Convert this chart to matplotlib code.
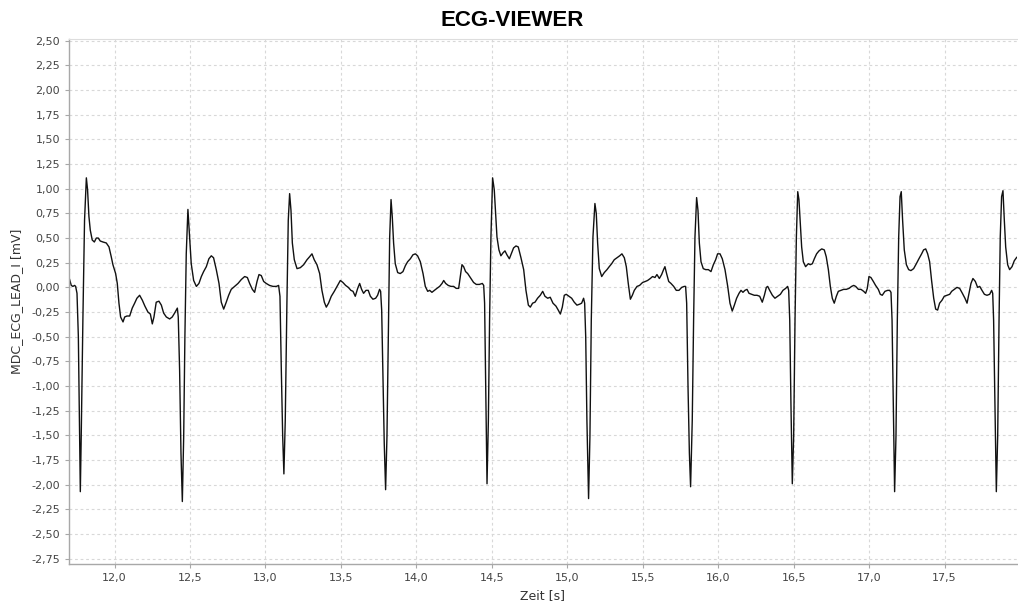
import matplotlib
matplotlib.use("Agg")
import matplotlib.pyplot as plt
from matplotlib.ticker import FuncFormatter, MultipleLocator

# ECG samples (time in s, voltage in mV)
time_s = [
    11.702, 11.713, 11.724, 11.735, 11.742, 11.751, 11.760, 11.768, 11.773, 11.779,
    11.790, 11.801, 11.813, 11.821, 11.830, 11.839, 11.852, 11.866, 11.879, 11.892,
    11.905, 11.923, 11.945, 11.963, 11.978, 11.989, 12.007, 12.018, 12.029, 12.040,
    12.056, 12.067, 12.082, 12.100, 12.117, 12.133, 12.148, 12.166, 12.184, 12.201,
    12.221, 12.237, 12.250, 12.261, 12.276, 12.294, 12.310, 12.325, 12.343, 12.365,
    12.382, 12.398, 12.416, 12.422, 12.431, 12.440, 12.449, 12.458, 12.466, 12.475,
    12.486, 12.497, 12.508, 12.524, 12.542, 12.559, 12.575, 12.590, 12.608, 12.625,
    12.641, 12.656, 12.674, 12.692, 12.707, 12.723, 12.740, 12.756, 12.773, 12.796,
    12.818, 12.840, 12.862, 12.880, 12.895, 12.913, 12.928, 12.944, 12.957, 12.972,
    12.988, 13.005, 13.027, 13.050,
    13.072, 13.087, 13.096, 13.105, 13.114, 13.122, 13.131, 13.142, 13.151, 13.160,
    13.169, 13.178, 13.191, 13.209, 13.231, 13.253, 13.275, 13.292, 13.308, 13.323,
    13.341, 13.359, 13.374, 13.390, 13.403, 13.418, 13.436, 13.456, 13.474, 13.496,
    13.513, 13.531, 13.549, 13.566, 13.580, 13.595, 13.611, 13.624, 13.637, 13.650,
    13.666, 13.681, 13.695, 13.712, 13.730, 13.743, 13.756, 13.763, 13.770, 13.778,
    13.787, 13.796, 13.805, 13.814, 13.823, 13.832, 13.840, 13.849, 13.860, 13.876,
    13.893, 13.911, 13.927, 13.942, 13.960, 13.977, 13.993, 14.008, 14.026, 14.044,
    14.059, 14.075, 14.088, 14.103, 14.119, 14.136, 14.154, 14.170, 14.181, 14.194,
    14.211, 14.229, 14.247, 14.264, 14.280, 14.291, 14.302, 14.313, 14.326, 14.340,
    14.353, 14.366, 14.379, 14.397,
    14.417, 14.437, 14.446, 14.452, 14.461, 14.468, 14.477, 14.485, 14.494, 14.505,
    14.516, 14.525, 14.534, 14.547, 14.560, 14.574, 14.587, 14.600, 14.616, 14.631,
    14.644, 14.660, 14.675, 14.693, 14.711, 14.726, 14.742, 14.755, 14.770, 14.786,
    14.803, 14.821, 14.837, 14.852, 14.870, 14.887, 14.905, 14.925, 14.940, 14.954,
    14.967, 14.980, 14.993, 15.011, 15.029, 15.046, 15.064, 15.082, 15.095, 15.108,
    15.115, 15.122, 15.130, 15.141, 15.150, 15.159, 15.170, 15.183, 15.192, 15.201,
    15.212, 15.228, 15.245, 15.263, 15.278, 15.294, 15.311, 15.329, 15.347, 15.362,
    15.378, 15.391, 15.404, 15.418, 15.431, 15.444, 15.462, 15.479, 15.499, 15.517,
    15.532, 15.550, 15.565, 15.581, 15.594, 15.610, 15.625, 15.638, 15.647, 15.658,
    15.672, 15.687, 15.705, 15.722, 15.740,
    15.758, 15.775, 15.784, 15.791, 15.800, 15.809, 15.817, 15.828, 15.837, 15.846,
    15.857, 15.866, 15.875, 15.886, 15.901, 15.917, 15.935, 15.952, 15.968, 15.983,
    15.996, 16.012, 16.027, 16.045, 16.063, 16.078, 16.093, 16.107, 16.122, 16.138,
    16.151, 16.164, 16.177, 16.191, 16.204, 16.222, 16.239, 16.257, 16.275, 16.292,
    16.306, 16.319, 16.328, 16.341, 16.359, 16.376, 16.394, 16.412, 16.429, 16.447,
    16.460, 16.467, 16.474, 16.482, 16.491, 16.500, 16.509, 16.518, 16.527, 16.535,
    16.544, 16.553, 16.564, 16.579, 16.597, 16.610, 16.624, 16.637, 16.652, 16.668,
    16.686, 16.703, 16.716, 16.730, 16.743, 16.756, 16.769, 16.783, 16.796, 16.814,
    16.831, 16.849, 16.867, 16.884, 16.898, 16.911, 16.929, 16.946, 16.964, 16.977,
    16.988, 16.999, 17.012, 17.028, 17.043, 17.061, 17.074, 17.087, 17.105, 17.123,
    17.136, 17.145, 17.152, 17.160, 17.169, 17.178, 17.187, 17.196, 17.205, 17.213,
    17.222, 17.233, 17.247, 17.262, 17.277, 17.295, 17.313, 17.330, 17.348, 17.361,
    17.375, 17.388, 17.401, 17.414, 17.428, 17.441, 17.454, 17.467, 17.483, 17.498,
    17.516, 17.534, 17.547, 17.565, 17.582, 17.600, 17.618, 17.635, 17.649, 17.662,
    17.675, 17.688, 17.704, 17.719, 17.733, 17.748, 17.764, 17.781, 17.799, 17.812,
    17.819, 17.825, 17.834, 17.843, 17.852, 17.861, 17.869, 17.878, 17.887, 17.896,
    17.905, 17.918, 17.931, 17.947, 17.962, 17.976, 17.989,
]

lead_i_mv = [
    0.08, 0.02, 0.01, 0.02, 0.01, -0.06, -0.50, -1.51, -2.07, -1.51,
    -0.33, 0.68, 1.11, 0.99, 0.72, 0.58, 0.48, 0.46, 0.50, 0.50,
    0.47, 0.46, 0.45, 0.41, 0.31, 0.23, 0.14, 0.04, -0.16, -0.30,
    -0.35, -0.30, -0.29, -0.29, -0.21, -0.16, -0.11, -0.08, -0.13, -0.19,
    -0.25, -0.27, -0.37, -0.30, -0.15, -0.14, -0.18, -0.26, -0.30, -0.32,
    -0.30, -0.26, -0.21, -0.30, -0.84, -1.68, -2.17, -1.51, -0.50, 0.34,
    0.79, 0.51, 0.24, 0.07, 0.01, 0.04, 0.11, 0.16, 0.21, 0.29,
    0.32, 0.30, 0.18, 0.04, -0.15, -0.22, -0.15, -0.08, -0.02, 0.01,
    0.04, 0.08, 0.11, 0.10, 0.04, -0.02, -0.05, 0.06, 0.13, 0.12,
    0.06, 0.04, 0.02, 0.01,
    0.01, 0.02, -0.09, -0.84, -1.51, -1.89, -1.35, -0.16, 0.68, 0.95,
    0.78, 0.45, 0.28, 0.19, 0.20, 0.23, 0.28, 0.31, 0.34, 0.28,
    0.23, 0.14, -0.03, -0.15, -0.20, -0.16, -0.09, -0.04, 0.01, 0.07,
    0.05, 0.02, 0.00, -0.03, -0.04, -0.09, -0.01, 0.04, -0.02, -0.06,
    -0.03, -0.03, -0.09, -0.12, -0.11, -0.08, -0.02, -0.04, -0.23, -0.84,
    -1.58, -2.05, -1.51, -0.50, 0.51, 0.89, 0.72, 0.45, 0.24, 0.15,
    0.14, 0.16, 0.22, 0.26, 0.29, 0.33, 0.34, 0.32, 0.26, 0.14,
    0.01, -0.04, -0.03, -0.05, -0.03, -0.01, 0.01, 0.04, 0.07, 0.04,
    0.02, 0.01, 0.01, -0.01, -0.01, 0.11, 0.23, 0.21, 0.16, 0.14,
    0.11, 0.08, 0.05, 0.03,
    0.03, 0.04, 0.02, -0.16, -1.18, -1.99, -1.35, -0.33, 0.51, 1.11,
    0.99, 0.75, 0.51, 0.38, 0.32, 0.35, 0.37, 0.33, 0.29, 0.35,
    0.40, 0.42, 0.41, 0.30, 0.18, -0.03, -0.18, -0.20, -0.16, -0.15,
    -0.11, -0.08, -0.04, -0.09, -0.11, -0.10, -0.16, -0.19, -0.23, -0.27,
    -0.20, -0.08, -0.07, -0.09, -0.11, -0.15, -0.18, -0.17, -0.16, -0.11,
    -0.16, -0.50, -1.35, -2.14, -1.51, -0.33, 0.51, 0.85, 0.75, 0.45,
    0.19, 0.11, 0.15, 0.18, 0.21, 0.24, 0.28, 0.30, 0.32, 0.34,
    0.30, 0.21, 0.04, -0.12, -0.08, -0.03, 0.01, 0.02, 0.05, 0.06,
    0.07, 0.09, 0.11, 0.10, 0.13, 0.09, 0.13, 0.18, 0.21, 0.14,
    0.06, 0.04, 0.01, -0.03, -0.03,
    0.00, 0.01, 0.01, -0.16, -1.01, -1.68, -2.02, -1.35, -0.33, 0.51,
    0.91, 0.78, 0.45, 0.26, 0.19, 0.18, 0.18, 0.16, 0.23, 0.28,
    0.34, 0.34, 0.29, 0.18, 0.01, -0.16, -0.24, -0.18, -0.11, -0.06,
    -0.03, -0.05, -0.03, -0.02, -0.06, -0.07, -0.08, -0.08, -0.09, -0.15,
    -0.08, 0.00, 0.01, -0.03, -0.08, -0.11, -0.09, -0.07, -0.03, -0.01,
    0.01, -0.03, -0.33, -1.18, -1.99, -1.51, -0.33, 0.51, 0.97, 0.89,
    0.65, 0.41, 0.26, 0.21, 0.24, 0.23, 0.24, 0.29, 0.34, 0.37,
    0.39, 0.38, 0.31, 0.18, 0.01, -0.11, -0.16, -0.09, -0.04, -0.03,
    -0.02, -0.02, -0.01, 0.01, 0.02, 0.01, -0.02, -0.02, -0.04, -0.06,
    -0.01, 0.11, 0.10, 0.06, 0.02, -0.02, -0.07, -0.08, -0.04, -0.03,
    -0.03, -0.05, -0.33, -1.18, -2.07, -1.51, -0.33, 0.51, 0.92, 0.97,
    0.68, 0.38, 0.23, 0.18, 0.17, 0.19, 0.24, 0.29, 0.34, 0.38,
    0.39, 0.34, 0.26, 0.07, -0.11, -0.22, -0.23, -0.16, -0.13, -0.09,
    -0.08, -0.07, -0.04, -0.02, 0.00, -0.01, -0.06, -0.11, -0.16, -0.06,
    0.04, 0.09, 0.06, 0.00, 0.01, -0.03, -0.07, -0.08, -0.07, -0.03,
    -0.06, -0.33, -1.18, -2.07, -1.51, -0.33, 0.51, 0.92, 0.98, 0.68,
    0.41, 0.23, 0.18, 0.21, 0.27, 0.30, 0.32,
]

title_text = "ECG-VIEWER"
x_label = "Zeit [s]"
y_label = "MDC_ECG_LEAD_I [mV]"

fig = plt.figure(figsize=(10.18, 6.10), dpi=100)
ax = fig.add_axes([69 / 1018, 46 / 610, (1017 - 69) / 1018, (564 - 39) / 610])

ax.plot(time_s, lead_i_mv, color="#111111", linewidth=1.0, solid_joinstyle="round")

ax.set_xlim(11.698, 17.98)
ax.set_ylim(-2.803, 2.517)
ax.xaxis.set_major_locator(MultipleLocator(0.5))
ax.yaxis.set_major_locator(MultipleLocator(0.25))
ax.xaxis.set_major_formatter(FuncFormatter(lambda v, p: f"{v:.1f}".replace(".", ",")))
ax.yaxis.set_major_formatter(FuncFormatter(lambda v, p: f"{v:.2f}".replace(".", ",")))

ax.grid(True, color="#d8d8d8", linestyle=(0, (2.5, 2.5)), linewidth=0.8)
ax.set_axisbelow(True)

ax.spines["right"].set_visible(False)
ax.spines["top"].set_color("#dddddd")
ax.spines["top"].set_linewidth(0.8)
for side in ("left", "bottom"):
    ax.spines[side].set_color("#a8a8a8")
    ax.spines[side].set_linewidth(1.0)

ax.tick_params(axis="both", colors="#a8a8a8", labelcolor="#444444",
               labelsize=8, length=3, width=0.8)

ax.set_xlabel(x_label, fontsize=9, color="#333333", labelpad=4)
ax.set_ylabel(y_label, fontsize=9, color="#333333", labelpad=6)
fig.text(0.5035, 1 - 20 / 610, title_text, ha="center", va="center",
         fontsize=16, fontweight="bold", family="Liberation Sans", color="#000000")

fig.savefig("out.png", dpi=100, facecolor="white")
